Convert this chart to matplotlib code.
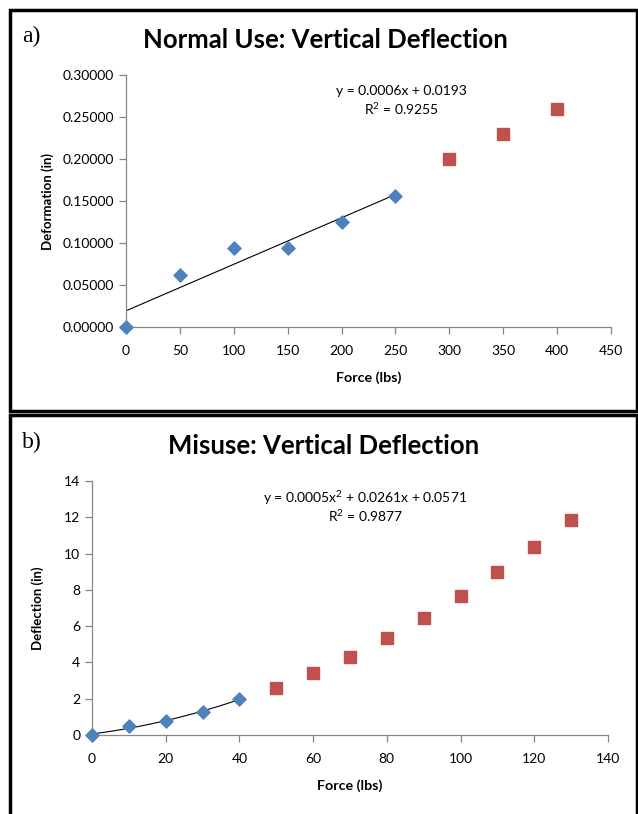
import numpy as np
import matplotlib
matplotlib.use("Agg")
import matplotlib.pyplot as plt
from matplotlib.patches import Rectangle
from matplotlib.ticker import FormatStrFormatter

# a) normal use
normal_fit_x = [0, 50, 100, 150, 200, 250]
normal_fit_y = [0.0, 0.0620, 0.0940, 0.0940, 0.1250, 0.1560]
normal_rest_x = [300, 350, 400]
normal_rest_y = [0.2000, 0.2300, 0.2595]

# b) misuse
misuse_fit_x = [0, 10, 20, 30, 40]
misuse_fit_y = [0.0, 0.50, 0.75, 1.25, 2.00]
misuse_rest_x = [50, 60, 70, 80, 90, 100, 110, 120, 130]
misuse_rest_y = [2.60, 3.40, 4.30, 5.33, 6.43, 7.65, 8.98, 10.35, 11.87]

eq_a = ["y = 0.0006x + 0.0193", "R$^2$ = 0.9255"]
eq_b = ["y = 0.0005x$^2$ + 0.0261x + 0.0571", "R$^2$ = 0.9877"]

plt.rcParams['font.family'] = ['Lato', 'DejaVu Sans']
plt.rcParams['mathtext.fontset'] = 'custom'
plt.rcParams['mathtext.rm'] = 'Lato'

W, H = 638, 814
fig = plt.figure(figsize=(W / 100, H / 100), dpi=100)

blue = '#4f81bd'
red = '#c0504d'
axis_grey = '#868686'


def px(x0, y0, x1, y1):
    # pixel box -> figure fraction [left, bottom, width, height]
    return [x0 / W, 1 - y1 / H, (x1 - x0) / W, (y1 - y0) / H]


def style(ax):
    for s in ['top', 'right']:
        ax.spines[s].set_visible(False)
    for s in ['left', 'bottom']:
        ax.spines[s].set_color(axis_grey)
        ax.spines[s].set_linewidth(0.9)
    ax.tick_params(axis='both', colors=axis_grey, labelcolor='black',
                   labelsize=10, length=5, width=0.9, direction='out')


# panel borders
fig.patches.append(Rectangle((10 / W, 1 - 411 / H), 627 / W, 401 / H,
                             transform=fig.transFigure, fill=False,
                             edgecolor='black', linewidth=2.5))
fig.patches.append(Rectangle((10 / W, -0.01), 627 / W, 1 - 415 / H + 0.01,
                             transform=fig.transFigure, fill=False,
                             edgecolor='black', linewidth=2.5))

# ---- panel a
ax1 = fig.add_axes(px(126, 75, 611, 327))
ax1.scatter(normal_fit_x, normal_fit_y, marker='D', s=45, color=blue, zorder=3, clip_on=False)
ax1.scatter(normal_rest_x, normal_rest_y, marker='s', s=70, color=red, zorder=3, clip_on=False)
k, b = np.polyfit(normal_fit_x, normal_fit_y, 1)
xs = np.array([min(normal_fit_x), max(normal_fit_x)])
ax1.plot(xs, k * xs + b, color='black', linewidth=0.8, zorder=2)
ax1.set_xlim(0, 450)
ax1.set_ylim(0, 0.3)
ax1.set_xticks(np.arange(0, 451, 50))
ax1.set_yticks(np.arange(0, 0.31, 0.05))
ax1.yaxis.set_major_formatter(FormatStrFormatter('%.5f'))
ax1.tick_params(axis='x', pad=8)
style(ax1)
ax1.set_xlabel('Force (lbs)', fontsize=10.3, fontweight='bold', labelpad=10)
ax1.set_ylabel('Deformation (in)', fontsize=9.5, fontweight='bold', labelpad=6)
ax1.text(0.567, 0.935, eq_a[0], transform=ax1.transAxes, ha='center', va='center', fontsize=10)
ax1.text(0.567, 0.865, eq_a[1], transform=ax1.transAxes, ha='center', va='center', fontsize=10)

fig.text(325 / W, 1 - 40 / H, 'Normal Use: Vertical Deflection', ha='center', va='center',
         fontsize=18.5, fontweight='bold')
fig.text(22 / W, 1 - 36 / H, 'a)', ha='left', va='center', fontsize=17,
         family='Liberation Serif')

# ---- panel b
ax2 = fig.add_axes(px(92, 481, 608, 735))
ax2.scatter(misuse_fit_x, misuse_fit_y, marker='D', s=45, color=blue, zorder=3, clip_on=False)
ax2.scatter(misuse_rest_x, misuse_rest_y, marker='s', s=70, color=red, zorder=3, clip_on=False)
c = np.polyfit(misuse_fit_x, misuse_fit_y, 2)
xc = np.linspace(min(misuse_fit_x), max(misuse_fit_x), 50)
ax2.plot(xc, np.polyval(c, xc), color='black', linewidth=0.8, zorder=2)
ax2.set_xlim(0, 140)
ax2.set_ylim(0, 14)
ax2.set_xticks(np.arange(0, 141, 20))
ax2.set_yticks(np.arange(0, 15, 2))
ax2.tick_params(axis='x', pad=8)
style(ax2)
ax2.set_xlabel('Force (lbs)', fontsize=10.3, fontweight='bold', labelpad=10)
ax2.set_ylabel('Deflection (in)', fontsize=9.5, fontweight='bold', labelpad=14)
ax2.text(0.53, 0.935, eq_b[0], transform=ax2.transAxes, ha='center', va='center', fontsize=10)
ax2.text(0.53, 0.862, eq_b[1], transform=ax2.transAxes, ha='center', va='center', fontsize=10)

fig.text(324 / W, 1 - 446 / H, 'Misuse: Vertical Deflection', ha='center', va='center',
         fontsize=18.5, fontweight='bold')
fig.text(22 / W, 1 - 442 / H, 'b)', ha='left', va='center', fontsize=17,
         family='Liberation Serif')

fig.savefig('out.png', dpi=100)
